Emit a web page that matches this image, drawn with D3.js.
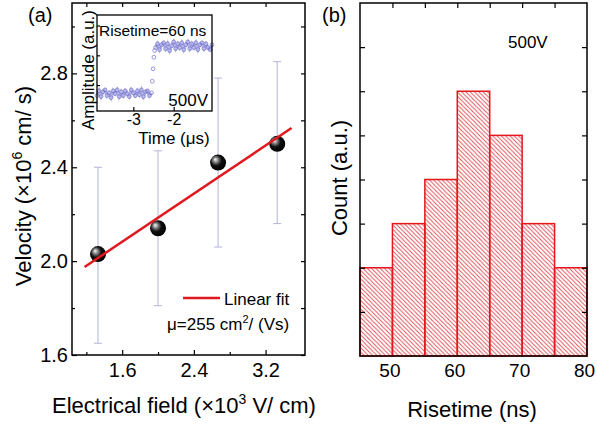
<!DOCTYPE html>
<html>
<head>
<meta charset="utf-8">
<script src="https://cdn.jsdelivr.net/npm/d3@7"></script>
<style>
  body { margin: 0; background: #fff; }
  svg { display: block; font-family: "Liberation Sans", Arial, sans-serif; }
  .tick line { stroke: #000; stroke-width: 1.2; }
</style>
</head>
<body>
<svg width="597" height="429"></svg>
<script>
// panel (a): drift velocity vs electrical field
const fieldE = [1.33, 2.0, 2.67, 3.33];
const velocity = [2.03, 2.14, 2.42, 2.50];
const velErrLow = [1.65, 1.81, 2.06, 2.16];
const velErrHigh = [2.40, 2.47, 2.78, 2.85];
const fitLine = [[1.18, 1.975], [3.49, 2.567]];
const xMajorA = [1.6, 2.4, 3.2];
const xMinorA = [1.2, 2.0, 2.8];
const yMajorA = [1.6, 2.0, 2.4, 2.8];
const yMinorA = [1.8, 2.2, 2.6, 3.0];

// inset: photocurrent trace
const insetTime = [-3.90, -3.85, -3.80, -3.75, -3.70, -3.65, -3.60, -3.55, -3.50, -3.45,
  -3.40, -3.35, -3.30, -3.25, -3.20, -3.15, -3.10, -3.05, -3.00, -2.95,
  -2.90, -2.85, -2.80, -2.75, -2.70, -2.65, -2.60, -2.55, -2.53, -2.51,
  -2.49, -2.47, -2.45, -2.40, -2.35, -2.30, -2.25, -2.20, -2.15, -2.10,
  -2.05, -2.00, -1.95, -1.90, -1.85, -1.80, -1.75, -1.70, -1.65, -1.60,
  -1.55, -1.50, -1.45, -1.40, -1.35, -1.30, -1.25, -1.20, -1.15, -1.10, -1.05];
const insetAmp = [0.16, 0.21, 0.15, 0.20, 0.22, 0.16, 0.19, 0.14, 0.21, 0.18,
  0.22, 0.15, 0.20, 0.16, 0.21, 0.18, 0.15, 0.22, 0.19, 0.16,
  0.21, 0.17, 0.22, 0.15, 0.20, 0.21, 0.16, 0.19, 0.31, 0.44,
  0.56, 0.63, 0.66, 0.70, 0.64, 0.69, 0.71, 0.65, 0.70, 0.63,
  0.68, 0.72, 0.65, 0.70, 0.66, 0.71, 0.64, 0.69, 0.72, 0.65,
  0.70, 0.66, 0.71, 0.64, 0.69, 0.71, 0.65, 0.70, 0.66, 0.64, 0.69];
const insetTicks = [-3, -2];
const insetAmpTicks = [0.27, 0.58, 0.89];

// panel (b): risetime histogram
const binEdges = [45, 50, 55, 60, 65, 70, 75, 80];
const binCounts = [2, 3, 4, 6, 5, 3, 2];
const xLabelsB = [50, 60, 70, 80];
const xTicksB = [50, 55, 60, 65, 70, 75];
const yTicksB = [1, 2, 3, 4, 5, 6, 7];

const svg = d3.select('svg');
const defs = svg.append('defs');

let grad = defs.append('radialGradient')
  .attr('id', 'ball')
  .attr('cx', '42%').attr('cy', '42%').attr('r', '60%')
  .attr('fx', '32%').attr('fy', '30%');
grad.append('stop').attr('offset', '0%').attr('stop-color', '#ffffff');
grad.append('stop').attr('offset', '20%').attr('stop-color', '#a0a0a0');
grad.append('stop').attr('offset', '55%').attr('stop-color', '#111');
grad.append('stop').attr('offset', '100%').attr('stop-color', '#000');

defs.append('pattern')
  .attr('id', 'hatch')
  .attr('patternUnits', 'userSpaceOnUse')
  .attr('width', 4.3).attr('height', 4.3)
  .append('path')
  .attr('d', 'M-1,-1 L5.3,5.3 M-1,3.3 L1,5.3 M3.3,-1 L5.3,1')
  .attr('stroke', '#dd4a52')
  .attr('stroke-width', 0.9);

// ---------- panel (a) ----------
let xA = d3.scaleLinear().domain([1.04, 3.64]).range([72, 305]);
let yA = d3.scaleLinear().domain([1.6, 3.1]).range([355, 3]);

let gA = svg.append('g');

function styleAxis(g, size) {
  g.select('.domain').remove();
  g.selectAll('text').attr('font-size', size).attr('fill', '#000')
    .attr('font-family', '"Liberation Sans", Arial, sans-serif');
}

gA.append('g').attr('transform', 'translate(0,355)')
  .call(d3.axisBottom(xA).tickValues(xMajorA).tickSize(-5).tickPadding(8).tickFormat(d3.format('.1f')))
  .call(g => styleAxis(g, 20));
gA.append('g').attr('transform', 'translate(0,355)')
  .call(d3.axisBottom(xA).tickValues(xMinorA).tickSize(-3).tickFormat(''))
  .call(g => styleAxis(g, 20));
gA.append('g').attr('transform', 'translate(0,3)')
  .call(d3.axisTop(xA).tickValues(xMajorA.concat(xMinorA)).tickSize(-4).tickFormat(''))
  .call(g => styleAxis(g, 20));
gA.append('g').attr('transform', 'translate(72,0)')
  .call(d3.axisLeft(yA).tickValues(yMajorA).tickSize(-5).tickPadding(4).tickFormat(d3.format('.1f')))
  .call(g => styleAxis(g, 20));
gA.append('g').attr('transform', 'translate(72,0)')
  .call(d3.axisLeft(yA).tickValues(yMinorA).tickSize(-3).tickFormat(''))
  .call(g => styleAxis(g, 20));
gA.append('g').attr('transform', 'translate(305,0)')
  .call(d3.axisRight(yA).tickValues(yMajorA.concat(yMinorA)).tickSize(-4).tickFormat(''))
  .call(g => styleAxis(g, 20));

// error bars
fieldE.forEach(function(e, i) {
  let x = xA(e);
  let eb = gA.append('g').attr('stroke', '#b4b4da').attr('stroke-width', 1);
  eb.append('line').attr('x1', x).attr('x2', x).attr('y1', yA(velErrLow[i])).attr('y2', yA(velErrHigh[i]));
  eb.append('line').attr('x1', x - 4).attr('x2', x + 4).attr('y1', yA(velErrLow[i])).attr('y2', yA(velErrLow[i]));
  eb.append('line').attr('x1', x - 4).attr('x2', x + 4).attr('y1', yA(velErrHigh[i])).attr('y2', yA(velErrHigh[i]));
});

// balls
gA.selectAll('circle.pt')
  .data(fieldE)
  .enter()
  .append('circle')
  .attr('class', 'pt')
  .attr('cx', d => xA(d))
  .attr('cy', (d, i) => yA(velocity[i]))
  .attr('r', 8)
  .attr('fill', 'url(#ball)');

// linear fit
gA.append('path')
  .attr('d', d3.line().x(d => xA(d[0])).y(d => yA(d[1]))(fitLine))
  .attr('fill', 'none')
  .attr('stroke', '#e0191e')
  .attr('stroke-width', 2.5);

// legend
gA.append('line').attr('x1', 183).attr('x2', 220).attr('y1', 298).attr('y2', 298)
  .attr('stroke', '#e0191e').attr('stroke-width', 2.5);
gA.append('text').attr('x', 224).attr('y', 305).attr('font-size', 17).text('Linear fit');
let mu = gA.append('text').attr('x', 167).attr('y', 330).attr('font-size', 17);
mu.append('tspan').text('\u03bc=255 cm');
mu.append('tspan').attr('font-size', 11).attr('dy', -7).text('2');
mu.append('tspan').attr('dy', 7).text('/ (Vs)');

gA.append('rect').attr('x', 72).attr('y', 3).attr('width', 233).attr('height', 352)
  .attr('fill', 'none').attr('stroke', '#000').attr('stroke-width', 1.5);

// ---------- inset ----------
let xI = d3.scaleLinear().domain([-3.9, -1.05]).range([97, 212]);
let yI = d3.scaleLinear().domain([0, 1]).range([111, 15]);
let gI = svg.append('g');
gI.append('rect').attr('x', 97).attr('y', 15).attr('width', 115).attr('height', 96)
  .attr('fill', '#fff').attr('stroke', 'none');
gI.append('path')
  .attr('d', d3.line().x(d => xI(d)).y((d, i) => yI(insetAmp[i]))(insetTime.slice(0, 28)))
  .attr('fill', 'none').attr('stroke', '#9a9ae0').attr('stroke-width', 3).attr('opacity', 0.7);
gI.append('path')
  .attr('d', d3.line().x(d => xI(d)).y((d, i) => yI(insetAmp[i + 32]))(insetTime.slice(32)))
  .attr('fill', 'none').attr('stroke', '#9a9ae0').attr('stroke-width', 3).attr('opacity', 0.7);
gI.selectAll('circle')
  .data(insetTime)
  .enter()
  .append('circle')
  .attr('cx', d => xI(d))
  .attr('cy', (d, i) => yI(insetAmp[i]))
  .attr('r', 1.9)
  .attr('fill', 'none')
  .attr('stroke', '#6868c8')
  .attr('stroke-width', 0.8)
  .attr('opacity', 0.85);
gI.append('g').attr('transform', 'translate(0,111)')
  .call(d3.axisBottom(xI).tickValues(insetTicks).tickSize(-4).tickPadding(3).tickFormat(d => '-' + Math.abs(d)))
  .call(g => styleAxis(g, 16));
gI.append('g').attr('transform', 'translate(97,0)')
  .call(d3.axisLeft(yI).tickValues(insetAmpTicks).tickSize(-3).tickFormat(''))
  .call(g => styleAxis(g, 16));
gI.append('rect').attr('x', 97).attr('y', 15).attr('width', 115).attr('height', 96)
  .attr('fill', 'none').attr('stroke', '#000').attr('stroke-width', 1.3);
gI.append('text').attr('x', 99).attr('y', 36).attr('font-size', 15.5).text('Risetime=60 ns');
gI.append('text').attr('x', 208).attr('y', 106).attr('font-size', 17).attr('text-anchor', 'end').text('500V');
gI.append('text').attr('x', 174).attr('y', 144).attr('font-size', 17).attr('text-anchor', 'middle').text('Time (\u03bcs)');
gI.append('text').attr('transform', 'translate(94,70) rotate(-90)')
  .attr('font-size', 17).attr('text-anchor', 'middle').text('Amplitude (a.u.)');

// ---------- panel (b) ----------
let xB = d3.scaleLinear().domain([45, 80]).range([360, 587]);
let yB = d3.scaleLinear().domain([0, 8]).range([356, 3]);
let gB = svg.append('g');

gB.selectAll('rect.bar')
  .data(binCounts)
  .enter()
  .append('rect')
  .attr('class', 'bar')
  .attr('x', (d, i) => xB(binEdges[i]))
  .attr('y', d => yB(d))
  .attr('width', (d, i) => xB(binEdges[i + 1]) - xB(binEdges[i]))
  .attr('height', d => yB(0) - yB(d))
  .attr('fill', 'url(#hatch)')
  .attr('stroke', '#e5161c')
  .attr('stroke-width', 1.5);

gB.append('g').attr('transform', 'translate(0,356)')
  .call(d3.axisBottom(xB).tickValues(xLabelsB).tickSize(0).tickPadding(8))
  .call(g => styleAxis(g, 19))
  .call(g => g.selectAll('text').attr('dx', -3));
gB.append('g').attr('transform', 'translate(0,3)')
  .call(d3.axisTop(xB).tickValues(xTicksB).tickSize(-5).tickFormat(''))
  .call(g => styleAxis(g, 20));
gB.append('g').attr('transform', 'translate(360,0)')
  .call(d3.axisLeft(yB).tickValues(yTicksB).tickSize(-5).tickFormat(''))
  .call(g => styleAxis(g, 20));
gB.append('g').attr('transform', 'translate(587,0)')
  .call(d3.axisRight(yB).tickValues(yTicksB).tickSize(-5).tickFormat(''))
  .call(g => styleAxis(g, 20));

gB.append('rect').attr('x', 360).attr('y', 3).attr('width', 227).attr('height', 353)
  .attr('fill', 'none').attr('stroke', '#000').attr('stroke-width', 1.5);
gB.append('text').attr('x', 508).attr('y', 48).attr('font-size', 17).text('500V');

// ---------- titles ----------
svg.append('text').attr('x', 28).attr('y', 22).attr('font-size', 20).text('(a)');
svg.append('text').attr('x', 322).attr('y', 22).attr('font-size', 20).text('(b)');

let xt = svg.append('text').attr('x', 52).attr('y', 413).attr('font-size', 22);
xt.append('tspan').text('Electrical field (\u00d710');
xt.append('tspan').attr('font-size', 14).attr('dy', -9).text('3');
xt.append('tspan').attr('dy', 9).text(' V/ cm)');

svg.append('text').attr('x', 472).attr('y', 417).attr('font-size', 22)
  .attr('text-anchor', 'middle').text('Risetime (ns)');

let yt = svg.append('text').attr('transform', 'translate(31,186) rotate(-90)')
  .attr('font-size', 22).attr('text-anchor', 'middle');
yt.append('tspan').text('Velocity (\u00d710');
yt.append('tspan').attr('font-size', 14).attr('dy', -9).text('6');
yt.append('tspan').attr('dy', 9).text(' cm/ s)');

svg.append('text').attr('transform', 'translate(347,178) rotate(-90)')
  .attr('font-size', 22).attr('text-anchor', 'middle').text('Count (a.u.)');
</script>
</body>
</html>
